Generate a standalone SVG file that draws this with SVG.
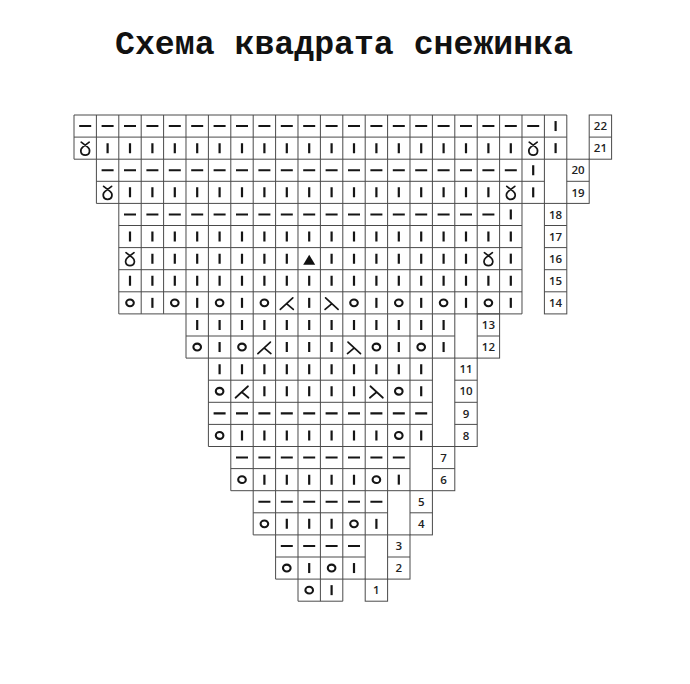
<svg xmlns="http://www.w3.org/2000/svg" xmlns:xlink="http://www.w3.org/1999/xlink" width="690" height="684" viewBox="0 0 690 684">
<style>
.g{fill:none;stroke:#4a4a4a;stroke-width:1}
.s{fill:none;stroke:#151515;stroke-width:2.1}
.b{fill:none;stroke:#151515;stroke-width:2.2}
.t{fill:none;stroke:#151515;stroke-width:1.7;stroke-linecap:round}
.br{fill:none;stroke:#151515;stroke-width:10;stroke-dasharray:2.2 20.2}
.dr{fill:none;stroke:#151515;stroke-width:2.1;stroke-dasharray:12 10.4}
.n{font-family:"Open Sans","Noto Sans","Liberation Sans",sans-serif;font-size:11.5px;font-weight:600;fill:#222;text-anchor:middle}
.title{font-family:"Liberation Mono","Courier New",monospace;font-size:33px;font-weight:bold;fill:#111;text-anchor:middle}
</style>
<defs>
<path id="b" class="b" d="M0-5V5"/>
<path id="d" class="s" d="M-6 0H6"/>
<ellipse id="o" class="s" rx="3.8" ry="3.4"/>
<path id="k" class="t" d="M-6.5 6.5L6-5M0 1L6.5 6.5"/>
<path id="s" class="t" d="M-6-5L6.5 6.5M0 1L-6.5 6.5"/>
<path id="l" class="t" d="M-4-6L2.5-1C5.5 1.5 5 7 0 7C-5 7-5.5 1.5-2.5-1L4-6"/>
<polygon id="tr" fill="#111" points="0,-4 6,6 -6,6"/>
</defs>
<rect width="690" height="684" fill="#fff"/>
<text class="title" x="344" y="54" textLength="458" lengthAdjust="spacingAndGlyphs">Схема квадрата снежинка</text>

<g id="grid">
<path class="g" d="M74 115v44.2m22.4-44.2v44.2m22.4-44.2v44.2m22.4-44.2v44.2m22.4-44.2v44.2m22.4-44.2v44.2m22.4-44.2v44.2m22.4-44.2v44.2m22.4-44.2v44.2m22.4-44.2v44.2m22.4-44.2v44.2m22.4-44.2v44.2m22.4-44.2v44.2m22.4-44.2v44.2m22.4-44.2v44.2m22.4-44.2v44.2m22.4-44.2v44.2m22.4-44.2v44.2m22.4-44.2v44.2m22.4-44.2v44.2m22.4-44.2v44.2m22.4-44.2v44.2m22.4-44.2v44.2M74 115H566.8M74 137.1H566.8M74 159.2H566.8"/>
<path class="g" d="M96.4 159.2v44.2m22.4-44.2v44.2m22.4-44.2v44.2m22.4-44.2v44.2m22.4-44.2v44.2m22.4-44.2v44.2m22.4-44.2v44.2m22.4-44.2v44.2m22.4-44.2v44.2m22.4-44.2v44.2m22.4-44.2v44.2m22.4-44.2v44.2m22.4-44.2v44.2m22.4-44.2v44.2m22.4-44.2v44.2m22.4-44.2v44.2m22.4-44.2v44.2m22.4-44.2v44.2m22.4-44.2v44.2m22.4-44.2v44.2m22.4-44.2v44.2M96.4 181.3H544.4M96.4 203.4H544.4"/>
<path class="g" d="M118.8 203.4v110.5m22.4-110.5v110.5m22.4-110.5v110.5m22.4-110.5v110.5m22.4-110.5v110.5m22.4-110.5v110.5m22.4-110.5v110.5m22.4-110.5v110.5m22.4-110.5v110.5m22.4-110.5v110.5m22.4-110.5v110.5m22.4-110.5v110.5m22.4-110.5v110.5m22.4-110.5v110.5m22.4-110.5v110.5m22.4-110.5v110.5m22.4-110.5v110.5m22.4-110.5v110.5m22.4-110.5v110.5M118.8 225.5H522M118.8 247.6H522M118.8 269.7H522M118.8 291.8H522M118.8 313.9H522"/>
<path class="g" d="M186 313.9v44.2m22.4-44.2v44.2m22.4-44.2v44.2m22.4-44.2v44.2m22.4-44.2v44.2m22.4-44.2v44.2m22.4-44.2v44.2m22.4-44.2v44.2m22.4-44.2v44.2m22.4-44.2v44.2m22.4-44.2v44.2m22.4-44.2v44.2m22.4-44.2v44.2M186 336H454.8M186 358.1H454.8"/>
<path class="g" d="M208.4 358.1v88.4m22.4-88.4v88.4m22.4-88.4v88.4m22.4-88.4v88.4m22.4-88.4v88.4m22.4-88.4v88.4m22.4-88.4v88.4m22.4-88.4v88.4m22.4-88.4v88.4m22.4-88.4v88.4m22.4-88.4v88.4M208.4 380.2H432.4M208.4 402.3H432.4M208.4 424.4H432.4M208.4 446.5H432.4"/>
<path class="g" d="M230.8 446.5v44.2m22.4-44.2v44.2m22.4-44.2v44.2m22.4-44.2v44.2m22.4-44.2v44.2m22.4-44.2v44.2m22.4-44.2v44.2m22.4-44.2v44.2m22.4-44.2v44.2M230.8 468.6H410M230.8 490.7H410"/>
<path class="g" d="M253.2 490.7v44.2m22.4-44.2v44.2m22.4-44.2v44.2m22.4-44.2v44.2m22.4-44.2v44.2m22.4-44.2v44.2m22.4-44.2v44.2M253.2 512.8H387.6M253.2 534.9H387.6"/>
<path class="g" d="M275.6 534.9v44.2m22.4-44.2v44.2m22.4-44.2v44.2m22.4-44.2v44.2m22.4-44.2v44.2M275.6 557H365.2M275.6 579.1H365.2"/>
<path class="g" d="M298 579.1v22.1m22.4-22.1v22.1m22.4-22.1v22.1M298 601.2H342.8"/>
</g>

<g id="number-boxes">
<rect class="g" x="589.2" y="115" width="22.4" height="44.2"/><path class="g" d="M589.2 137.1h22.4"/>
<rect class="g" x="566.8" y="159.2" width="22.4" height="44.2"/><path class="g" d="M566.8 181.3h22.4"/>
<rect class="g" x="544.4" y="203.4" width="22.4" height="110.5"/><path class="g" d="M544.4 225.5h22.4M544.4 247.6h22.4M544.4 269.7h22.4M544.4 291.8h22.4"/>
<rect class="g" x="477.2" y="313.9" width="22.4" height="44.2"/><path class="g" d="M477.2 336h22.4"/>
<rect class="g" x="454.8" y="358.1" width="22.4" height="88.4"/><path class="g" d="M454.8 380.2h22.4M454.8 402.3h22.4M454.8 424.4h22.4"/>
<rect class="g" x="432.4" y="446.5" width="22.4" height="44.2"/><path class="g" d="M432.4 468.6h22.4"/>
<rect class="g" x="410" y="490.7" width="22.4" height="44.2"/><path class="g" d="M410 512.8h22.4"/>
<rect class="g" x="387.6" y="534.9" width="22.4" height="44.2"/><path class="g" d="M387.6 557h22.4"/>
<rect class="g" x="365.2" y="579.1" width="22.4" height="22.1"/>
<text class="n" x="600.4" y="130.2">22</text>
<text class="n" x="600.4" y="152.3">21</text>
<text class="n" x="578" y="174.4">20</text>
<text class="n" x="578" y="196.5">19</text>
<text class="n" x="555.6" y="218.6">18</text>
<text class="n" x="555.6" y="240.7">17</text>
<text class="n" x="555.6" y="262.8">16</text>
<text class="n" x="555.6" y="284.9">15</text>
<text class="n" x="555.6" y="307">14</text>
<text class="n" x="488.4" y="329.1">13</text>
<text class="n" x="488.4" y="351.2">12</text>
<text class="n" x="466" y="373.3">11</text>
<text class="n" x="466" y="395.4">10</text>
<text class="n" x="466" y="417.5">9</text>
<text class="n" x="466" y="439.6">8</text>
<text class="n" x="443.6" y="461.7">7</text>
<text class="n" x="443.6" y="483.8">6</text>
<text class="n" x="421.2" y="505.9">5</text>
<text class="n" x="421.2" y="528">4</text>
<text class="n" x="398.8" y="550.1">3</text>
<text class="n" x="398.8" y="572.2">2</text>
<text class="n" x="376.4" y="594.3">1</text>
</g>

<g id="symbols">
<g id="row22" transform="translate(0 126.05)"><path class="dr" d="M79.2 0H539.2"/><use xlink:href="#b" x="555.6"/></g>
<g id="row21" transform="translate(0 148.15)"><use xlink:href="#l" x="85.2"/><path class="br" d="M106.5 0H511.9"/><use xlink:href="#l" x="533.2"/><use xlink:href="#b" x="555.6"/></g>
<g id="row20" transform="translate(0 170.25)"><path class="dr" d="M101.6 0H516.8"/><use xlink:href="#b" x="533.2"/></g>
<g id="row19" transform="translate(0 192.35)"><use xlink:href="#l" x="107.6"/><path class="br" d="M128.9 0H489.5"/><use xlink:href="#l" x="510.8"/><use xlink:href="#b" x="533.2"/></g>
<g id="row18" transform="translate(0 214.45)"><path class="dr" d="M124 0H494.4"/><use xlink:href="#b" x="510.8"/></g>
<g id="row17" transform="translate(0 236.55)"><path class="br" d="M128.9 0H511.9"/></g>
<g id="row16" transform="translate(0 258.65)"><use xlink:href="#l" x="130"/><path class="br" d="M151.3 0H287.9"/><use xlink:href="#tr" x="309.2"/><path class="br" d="M330.5 0H467.1"/><use xlink:href="#l" x="488.4"/><use xlink:href="#b" x="510.8"/></g>
<g id="row15" transform="translate(0 280.75)"><path class="br" d="M128.9 0H511.9"/></g>
<g id="row14" transform="translate(0 302.85)">
<use xlink:href="#o" x="130"/><use xlink:href="#b" x="152.4"/><use xlink:href="#o" x="174.8"/><use xlink:href="#b" x="197.2"/><use xlink:href="#o" x="219.6"/><use xlink:href="#b" x="242"/><use xlink:href="#o" x="264.4"/><use xlink:href="#k" x="286.8"/><use xlink:href="#b" x="309.2"/><use xlink:href="#s" x="331.6"/><use xlink:href="#o" x="354"/><use xlink:href="#b" x="376.4"/><use xlink:href="#o" x="398.8"/><use xlink:href="#b" x="421.2"/><use xlink:href="#o" x="443.6"/><use xlink:href="#b" x="466"/><use xlink:href="#o" x="488.4"/><use xlink:href="#b" x="510.8"/>
</g>
<g id="row13" transform="translate(0 324.95)"><path class="br" d="M196.1 0H444.7"/></g>
<g id="row12" transform="translate(0 347.05)">
<use xlink:href="#o" x="197.2"/><use xlink:href="#b" x="219.6"/><use xlink:href="#o" x="242"/><use xlink:href="#k" x="264.4"/><path class="br" d="M285.7 0H332.7"/><use xlink:href="#s" x="354"/><use xlink:href="#o" x="376.4"/><use xlink:href="#b" x="398.8"/><use xlink:href="#o" x="421.2"/><use xlink:href="#b" x="443.6"/>
</g>
<g id="row11" transform="translate(0 369.15)"><path class="br" d="M218.5 0H422.3"/></g>
<g id="row10" transform="translate(0 391.25)">
<use xlink:href="#o" x="219.6"/><use xlink:href="#k" x="242"/><path class="br" d="M263.3 0H355.1"/><use xlink:href="#s" x="376.4"/><use xlink:href="#o" x="398.8"/><use xlink:href="#b" x="421.2"/>
</g>
<g id="row9" transform="translate(0 413.35)"><path class="dr" d="M213.6 0H427.2"/></g>
<g id="row8" transform="translate(0 435.45)"><use xlink:href="#o" x="219.6"/><path class="br" d="M240.9 0H377.5"/><use xlink:href="#o" x="398.8"/><use xlink:href="#b" x="421.2"/></g>
<g id="row7" transform="translate(0 457.55)"><path class="dr" d="M236 0H404.8"/></g>
<g id="row6" transform="translate(0 479.65)"><use xlink:href="#o" x="242"/><path class="br" d="M263.3 0H355.1"/><use xlink:href="#o" x="376.4"/><use xlink:href="#b" x="398.8"/></g>
<g id="row5" transform="translate(0 501.75)"><path class="dr" d="M258.4 0H382.4"/></g>
<g id="row4" transform="translate(0 523.85)"><use xlink:href="#o" x="264.4"/><path class="br" d="M285.7 0H332.7"/><use xlink:href="#o" x="354"/><use xlink:href="#b" x="376.4"/></g>
<g id="row3" transform="translate(0 545.95)"><path class="dr" d="M280.8 0H360"/></g>
<g id="row2" transform="translate(0 568.05)"><use xlink:href="#o" x="286.8"/><use xlink:href="#b" x="309.2"/><use xlink:href="#o" x="331.6"/><use xlink:href="#b" x="354"/></g>
<g id="row1" transform="translate(0 590.15)"><use xlink:href="#o" x="309.2"/><use xlink:href="#b" x="331.6"/></g>
</g>
</svg>
